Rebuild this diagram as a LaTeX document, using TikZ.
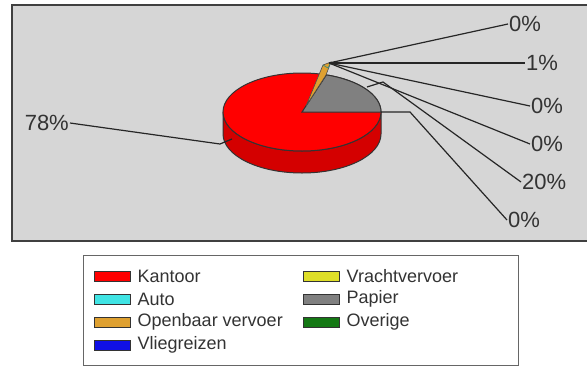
\documentclass[tikz,border=0pt]{standalone}
\usepackage{fontspec}
\setmainfont{Liberation Sans}
\usetikzlibrary{positioning}
\definecolor{plotgray}{RGB}{214,214,214}
\definecolor{kantoor}{RGB}{255,0,0}
\definecolor{kantoorside}{RGB}{212,0,0}
\definecolor{auto}{RGB}{64,228,228}
\definecolor{ov}{RGB}{222,160,48}
\definecolor{vlieg}{RGB}{16,16,230}
\definecolor{vracht}{RGB}{222,222,40}
\definecolor{papier}{RGB}{128,128,128}
\definecolor{overige}{RGB}{20,120,20}
\begin{document}
\begin{tikzpicture}[x=1pt,y=-1pt,
  pct/.style={inner sep=1pt, font=\fontsize{22}{26}\selectfont, text=black!80},
  swatch/.style={draw=black!80, line width=1pt, minimum width=36pt, minimum height=10pt, inner sep=0pt},
  legtxt/.style={inner sep=0pt, font=\fontsize{18}{21}\selectfont, text=black!80, right=7pt},
  leader/.style={line width=1.2pt, black!85}]
\useasboundingbox (0,0) rectangle (587,370);
% plot area
\fill[plotgray] (12,5) rectangle (587,241);
\draw[line width=1.5pt, black!75] (587,5) -- (12,5) -- (12,241) -- (587,241);
% pie
\coordinate (pc) at (302,112);
\filldraw[fill=kantoorside, draw=black!80, line width=1pt] (223,112) -- (223,134) arc[start angle=180, end angle=0, x radius=79, y radius=39] -- (381,112) arc[start angle=0, end angle=180, x radius=79, y radius=39] -- cycle;
\filldraw[fill=kantoor, draw=black!80, line width=1pt] (pc) ellipse[x radius=79, y radius=39];
\filldraw[fill=papier, draw=black!80, line width=1pt] (pc) -- (381,112) arc[start angle=0, end angle=-72, x radius=79, y radius=39] -- cycle;
\filldraw[fill=ov, draw=black!70, line width=0.6pt] (306,106) -- (323,65) -- (331,62) -- (326,75) -- cycle;
\draw[auto!60!black, line width=0.6pt] (323,65) -- (328,68) -- (331,62);
% leader starts
\coordinate (tip) at (329,63);
\coordinate (s78) at (232,139);
\coordinate (s20) at (367,87);
\coordinate (s0d) at (381,112);
% labels
\node[pct, anchor=east] (p78) at (70,123) {78\%};
\node[pct, anchor=west] (p0a) at (508,24) {0\%};
\node[pct, anchor=west] (p1) at (525,63) {1\%};
\node[pct, anchor=west] (p0b) at (530,106) {0\%};
\node[pct, anchor=west] (p0c) at (530,144) {0\%};
\node[pct, anchor=west] (p20) at (521,182) {20\%};
\node[pct, anchor=west] (p0d) at (507,220) {0\%};
\draw[leader] (p78.east) -- (220,144) -- (s78);
\draw[leader] (tip) -- (p0a.west);
\draw[leader] (tip) -- (p1.west);
\draw[leader] (tip) -- (p0b.west);
\draw[leader] (tip) -- (p0c.west);
\draw[leader] (s20) -- (383,82) -- (p20.west);
\draw[leader] (s0d) -- (410,112) -- (p0d.west);
% legend
\draw[black!60, line width=0.8pt] (83,255) rectangle (518,365);
\node[swatch, fill=kantoor] (sKantoor) at (112,276) {};
\node[legtxt, right=7pt of sKantoor] (tKantoor) {Kantoor};
\node[swatch, fill=auto] (sAuto) at (112,299) {};
\node[legtxt, right=7pt of sAuto] (tAuto) {Auto};
\node[swatch, fill=ov] (sOV) at (112,322) {};
\node[legtxt, right=7pt of sOV] (tOV) {Openbaar vervoer};
\node[swatch, fill=vlieg] (sVlieg) at (112,345) {};
\node[legtxt, right=7pt of sVlieg] (tVlieg) {Vliegreizen};
\node[swatch, fill=vracht] (sVracht) at (321,276) {};
\node[legtxt, right=7pt of sVracht] (tVracht) {Vrachtvervoer};
\node[swatch, fill=papier] (sPapier) at (321,299) {};
\node[legtxt, right=7pt of sPapier] (tPapier) {Papier};
\node[swatch, fill=overige] (sOverige) at (321,322) {};
\node[legtxt, right=7pt of sOverige] (tOverige) {Overige};
\end{tikzpicture}
\end{document}
